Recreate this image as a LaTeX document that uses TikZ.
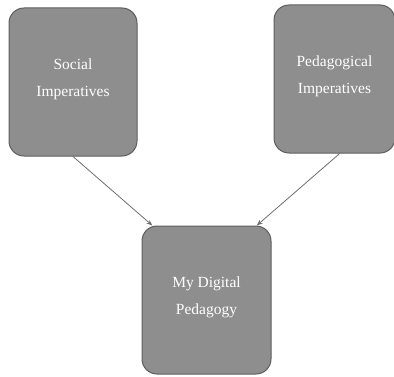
\documentclass[tikz,border=0pt]{standalone}
\usepackage{fontspec}
\setmainfont{Liberation Serif}
\usetikzlibrary{arrows.meta}
\usetikzlibrary{positioning}
\definecolor{boxfill}{HTML}{8E8E8E}
\definecolor{boxline}{HTML}{5E5E5E}
\definecolor{arrowline}{HTML}{6E6E6E}

\begin{document}
\begin{tikzpicture}
		[x=1pt,y=1pt,
		 font=\fontsize{15.5}{27}\selectfont,
		 imperative/.style={rectangle,rounded corners=15pt,draw=boxline,line width=1pt,fill=boxfill,
			text=white,align=center,minimum height=148pt,inner sep=0pt,text depth=9.5pt},
		 feeds/.style={->,>={Stealth[length=6pt,width=4.5pt]},draw=arrowline,line width=0.8pt}]

		\useasboundingbox (0,0) rectangle (394,376);

		\node[imperative,minimum width=129pt] (pedagogy) at (206.5,76) {My Digital\\Pedagogy};

		\node[imperative,minimum width=128pt] (social) at (73,294) {Social\\Imperatives};
		\node[imperative,minimum width=121pt] (pedagogical) at (334.5,297) {Pedagogical\\Imperatives};
		\draw[feeds] (social.south) -- (pedagogy.126);
		\draw[feeds] (pedagogical.-86) -- (pedagogy.56);
	\end{tikzpicture}
\end{document}
